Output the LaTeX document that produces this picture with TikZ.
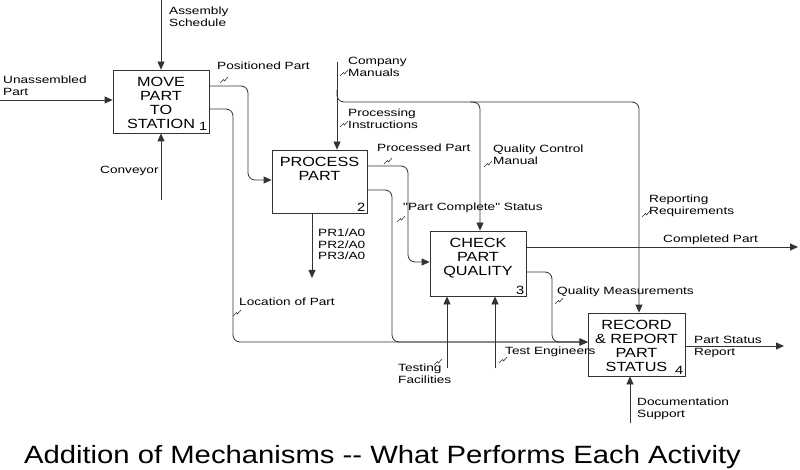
\documentclass[tikz,border=0pt]{standalone}
\usepackage{fontspec}
\setmainfont{Liberation Sans}
\newfontfamily\lblfont[FakeStretch=1.3]{Liberation Sans}
\newfontfamily\boxfont[FakeStretch=1.22]{Liberation Sans}
\newfontfamily\titlefont[FakeStretch=1.17]{Liberation Sans}
\usetikzlibrary{arrows.meta,calc}
\begin{document}
\begin{tikzpicture}[x=1pt,y=-1pt,
  line/.style={draw=black!80,line width=0.8pt},
  arr/.style={line,-{Triangle[length=8pt,width=7pt]}},
  box/.style={draw=black!80,line width=0.8pt,fill=white,inner sep=0pt},
  boxtext/.style={font=\boxfont\fontsize{13.3}{14.3}\selectfont,align=center,inner sep=0pt,anchor=north},
  num/.style={font=\boxfont\fontsize{12}{13}\selectfont,inner sep=0pt,anchor=south east},
  lbl/.style={font=\lblfont\fontsize{10.5}{11.5}\selectfont,align=left,inner sep=0pt,anchor=north west},
  rc/.style={rounded corners=7pt},
  squig/.pic={\draw[black!80,line width=0.6pt] (-4,3) -- (-0.5,-0.5) -- (0.5,1) -- (4,-3);}
]
\fill[white] (0,0) rectangle (800,470);
\useasboundingbox (0,0) rectangle (800,470);

% boxes
\node[box,minimum width=96pt,minimum height=63pt] (b1) at (161,101.5) {};
\node[box,minimum width=95pt,minimum height=63pt] (b2) at (319.5,181.5) {};
\node[box,minimum width=96pt,minimum height=65pt] (b3) at (478,263.5) {};
\node[box,minimum width=97pt,minimum height=63pt] (b4) at (636.5,344.5) {};

\node[boxtext] (t1) at ($(b1.north)+(0,7)$) {MOVE\\PART\\TO\\STATION};
\node[boxtext] (t2) at ($(b2.north)+(0,7)$) {PROCESS\\PART};
\node[boxtext] (t3) at ($(b3.north)+(0,7)$) {CHECK\\PART\\QUALITY};
\node[boxtext] (t4) at ($(b4.north)+(0,7)$) {RECORD\\\&~REPORT\\PART\\STATUS};

\node[num] (n1) at ($(b1.south east)+(-2,-3)$) {1};
\node[num] (n2) at ($(b2.south east)+(-2,-2)$) {2};
\node[num] (n3) at ($(b3.south east)+(-2,-2)$) {3};
\node[num] (n4) at ($(b4.south east)+(-2,-2)$) {4};

% free ends
\coordinate (asS) at (161,0);
\coordinate (unS) at (0,100);
\coordinate (cvS) at (161,200);
\coordinate (cm) at (337,62);
\coordinate (cpE) at (798,247);
\coordinate (psE) at (784,346);
\coordinate (dsS) at (630,423);
\coordinate (tfS) at (447,368);
\coordinate (teS) at (495,368);
\coordinate (prE) at (312,278);

% connectors
\draw[arr] (asS) -- (b1.north);
\draw[arr] (unS) -- (b1.west |- unS);
\draw[arr] (cvS) -- (b1.south);
\draw[arr,rc] (b1.east |- 0,86) -| (248,180) -- (b2.west |- 0,180);
\draw[arr,rc] (b1.east |- 0,109) -| (233,342) -- (b4.west |- 0,342);
\draw[arr,rc] (b2.east |- 0,166) -| (408,262) -- (b3.west |- 0,262);
\draw[arr,rc] (b2.east |- 0,190) -| (392,342) -- (b4.west |- 0,342);
\draw[arr,rc] (b3.east |- 0,272) -| (552,342) -- (b4.west |- 0,342);
\draw[arr] (cm) -- (cm |- b2.north);
\draw[arr,rc] (337,90) |- (639,102) -- (b4.north -| 639,0);
\draw[arr,rc] (470,102) -| (b3.north -| 480,0);
\draw[arr] (b3.east |- cpE) -- (cpE);
\draw[arr] (b4.east |- psE) -- (psE);
\draw[arr] (dsS) -- (b4.south -| dsS);
\draw[arr] (tfS) -- (b3.south -| tfS);
\draw[arr] (teS) -- (b3.south -| teS);
\draw[arr] (b2.south -| prE) -- (prE);

% labels
\node[lbl] (l1) at (169,7) {Assembly\\Schedule};
\node[lbl] (l2) at (3,76) {Unassembled\\Part};
\node[lbl] (l3) at (100,166) {Conveyor};
\node[lbl] (l4) at (217,62) {Positioned Part};
\node[lbl] (l5) at (348,57) {Company\\Manuals};
\node[lbl] (l6) at (348,109) {Processing\\Instructions};
\node[lbl] (l7) at (377,144) {Processed Part};
\node[lbl] (l8) at (493,145) {Quality Control\\Manual};
\node[lbl] (l9) at (403,203) {"Part Complete" Status};
\node[lbl] (l10) at (318,229) {PR1/A0\\PR2/A0\\PR3/A0};
\node[lbl] (l11) at (649,195) {Reporting\\Requirements};
\node[lbl] (l12) at (663,235) {Completed Part};
\node[lbl] (l13) at (557,287) {Quality Measurements};
\node[lbl] (l14) at (239,298) {Location of Part};
\node[lbl] (l15) at (398,364) {Testing\\Facilities};
\node[lbl] (l16) at (505,347) {Test Engineers};
\node[lbl] (l17) at (694,336) {Part Status\\Report};
\node[lbl] (l18) at (637,398) {Documentation\\Support};

% squiggles
\pic at (224,80) {squig};
\pic at (344,73) {squig};
\pic at (344,124) {squig};
\pic at (388,161) {squig};
\pic at (401,219) {squig};
\pic at (488,164) {squig};
\pic at (646,214) {squig};
\pic at (559,301) {squig};
\pic at (237,313) {squig};
\pic at (438,362) {squig};
\pic at (503,360) {squig};

% title
\node[font=\titlefont\fontsize{25}{30}\selectfont,anchor=base,inner sep=0pt] (title) at (382.5,463) {Addition of Mechanisms -{}- What Performs Each Activity};
\end{tikzpicture}
\end{document}
